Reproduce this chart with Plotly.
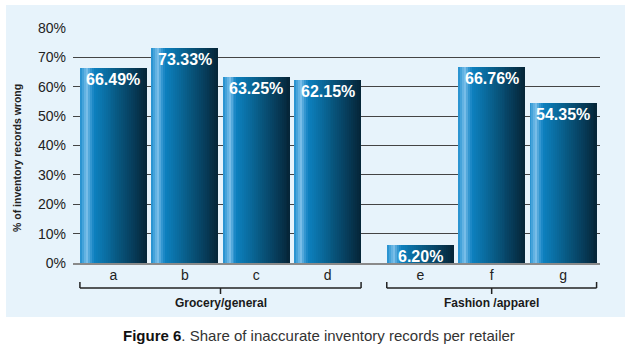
import plotly.graph_objects as go

# ---- data ----
categories = ["a", "b", "c", "d", "e", "f", "g"]
values = [66.49, 73.33, 63.25, 62.15, 6.20, 66.76, 54.35]
groups = ["Grocery/general", "Grocery/general", "Grocery/general", "Grocery/general",
          "Fashion /apparel", "Fashion /apparel", "Fashion /apparel"]
group_names = ["Grocery/general", "Fashion /apparel"]
y_ticks = [0, 10, 20, 30, 40, 50, 60, 70, 80]
y_title = "% of inventory records wrong"
caption_bold = "Figure 6"
caption_rest = ". Share of inaccurate inventory records per retailer"

# ---- layout helpers ----
GAP = 0.3  # extra space between the two groups
xpos = []
for i, g in enumerate(groups):
    xpos.append(i + (GAP if g == group_names[1] else 0))
W = 0.94

FONT = "Liberation Sans, Arial, sans-serif"

stops = [
    (0.00, "#1e8ccc"),
    (0.05, "#4aa6dc"),
    (0.10, "#7cbfe9"),
    (0.15, "#3c9bd4"),
    (0.21, "#0d80bf"),
    (0.38, "#0a6ea2"),
    (0.58, "#08567e"),
    (0.78, "#073e5d"),
    (1.00, "#052436"),
]


def hex2rgb(h):
    h = h.lstrip("#")
    return [int(h[i:i + 2], 16) for i in (0, 2, 4)]


def grad(t):
    for (t0, c0), (t1, c1) in zip(stops[:-1], stops[1:]):
        if t0 <= t <= t1:
            f = (t - t0) / (t1 - t0) if t1 > t0 else 0
            a, b = hex2rgb(c0), hex2rgb(c1)
            r = [round(a[k] + (b[k] - a[k]) * f) for k in range(3)]
            return "rgb(%d,%d,%d)" % tuple(r)
    return stops[-1][1]


fig = go.Figure()
N = 34
sw = W / N
for i in range(N):
    off = -W / 2 + i * sw
    wid = min(sw * 1.6, W / 2 - off)
    fig.add_trace(go.Bar(
        x=xpos, y=values, width=[wid] * len(xpos), offset=[off] * len(xpos),
        marker=dict(color=grad((i + 0.5) / N), line=dict(width=0)),
        hoverinfo="skip", showlegend=False,
    ))

annotations = []
for x, v in zip(xpos, values):
    annotations.append(dict(
        x=x, y=v, xref="x", yref="y", text="<b>%.2f%%</b>" % v,
        showarrow=False, yanchor="top", xanchor="center", yshift=-1,
        font=dict(family=FONT, size=16, color="white"),
    ))

# plot area pixel geometry
L, R, T, B = 73, 33, 28, 87
H = 350 - T - B
PW = 633 - L - R


def py(p):
    return (350 - B - p) / H


def px(p):
    return (p - L) / PW


shapes = [dict(type="rect", xref="paper", yref="paper",
               x0=px(6), x1=px(625), y0=py(317), y1=py(5),
               fillcolor="#e7f3fb", line=dict(width=0), layer="below")]

for gname in group_names:
    xs = [x for x, g in zip(xpos, groups) if g == gname]
    x0, x1 = min(xs) - W / 2, max(xs) + W / 2
    xc = (min(xs) + max(xs)) / 2
    ln = dict(color="#222222", width=1.5)
    shapes += [
        dict(type="line", xref="x", yref="paper", x0=x0, x1=x1, y0=py(288), y1=py(288), line=ln),
        dict(type="line", xref="x", yref="paper", x0=x0, x1=x0, y0=py(288), y1=py(282), line=ln),
        dict(type="line", xref="x", yref="paper", x0=x1, x1=x1, y0=py(288), y1=py(282), line=ln),
        dict(type="line", xref="x", yref="paper", x0=xc, x1=xc, y0=py(288), y1=py(294), line=ln),
    ]
    annotations.append(dict(
        x=xc, y=py(303), xref="x", yref="paper", text="<b>%s</b>" % gname,
        showarrow=False, xanchor="center", yanchor="middle",
        font=dict(family=FONT, size=12, color="#1a1a1a"),
    ))

annotations.append(dict(
    x=px(17), y=py(158), xref="paper", yref="paper", text="<b>%s</b>" % y_title,
    textangle=-90, showarrow=False, xanchor="center", yanchor="middle",
    font=dict(family=FONT, size=10.5, color="#222222"),
))
annotations.append(dict(
    x=px(319), y=py(335), xref="paper", yref="paper",
    text="<b><span style='color:#111111'>%s</span></b>%s" % (caption_bold, caption_rest),
    showarrow=False, xanchor="center", yanchor="middle",
    font=dict(family=FONT, size=15, color="#333333"),
))

fig.update_layout(
    width=633, height=350,
    margin=dict(l=L, r=R, t=T, b=B),
    paper_bgcolor="white", plot_bgcolor="rgba(0,0,0,0)",
    barmode="overlay", bargap=0,
    shapes=shapes, annotations=annotations,
    font=dict(family=FONT, color="#222222"),
)
fig.update_xaxes(
    range=[xpos[0] - 0.567, xpos[-1] + 0.518],
    tickvals=xpos, ticktext=categories,
    tickfont=dict(family=FONT, size=14, color="#222222"),
    showgrid=False, zeroline=False,
    showline=True, linecolor="#8a8a8a", linewidth=1.5,
    ticks="", ticklabelstandoff=-2, fixedrange=True,
)
fig.update_yaxes(
    range=[0, 80], tickvals=y_ticks, ticktext=["%d%%" % t for t in y_ticks],
    tickfont=dict(family=FONT, size=14, color="#222222"),
    showgrid=True, gridcolor="#444444", gridwidth=1,
    zeroline=False, showline=False, ticks="", ticklabelstandoff=6,
    fixedrange=True,
)

fig.write_html("out.html")
